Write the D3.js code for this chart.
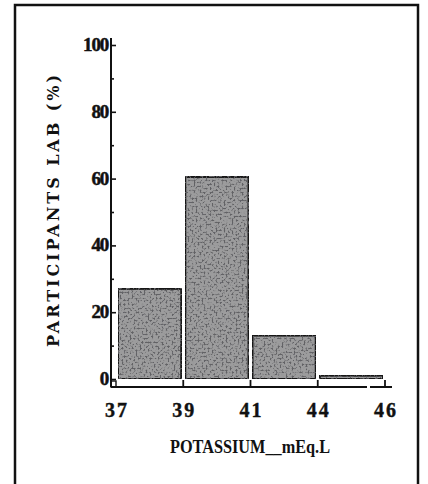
<!DOCTYPE html>
<html>
<head>
<meta charset="utf-8">
<script src="https://cdn.jsdelivr.net/npm/d3@7"></script>
<style>
  html, body { margin: 0; padding: 0; background: #fff; }
  svg { display: block; }
</style>
</head>
<body>
<div id="chart"></div>
<script>
// bin edges as printed (decimal points lost in the scan)
const edgeLabels = ["37", "39", "41", "44", "46"];
// share of participant labs in each potassium bin (%)
const binValues = [27, 60.5, 13, 1];
const yTicks = [0, 20, 40, 60, 80, 100];

const W = 428, H = 484;

const svg = d3.select("#chart").append("svg")
    .attr("width", W)
    .attr("height", H);

// speckled grey fill like the photocopy
const defs = svg.append("defs");
const filt = defs.append("filter").attr("id", "grain")
    .attr("x", 0).attr("y", 0).attr("width", 1).attr("height", 1);
filt.append("feTurbulence")
    .attr("type", "fractalNoise").attr("baseFrequency", 0.5)
    .attr("numOctaves", 2).attr("seed", 7).attr("result", "noise");
filt.append("feColorMatrix").attr("in", "noise").attr("type", "matrix")
    .attr("values", "0 0 0 0 0.12  0 0 0 0 0.12  0 0 0 0 0.13  0 0 0 -5 2.55")
    .attr("result", "spots");
filt.append("feComposite").attr("in", "spots").attr("in2", "SourceGraphic")
    .attr("operator", "in").attr("result", "dark");
filt.append("feMerge").call(m => {
    m.append("feMergeNode").attr("in", "SourceGraphic");
    m.append("feMergeNode").attr("in", "dark");
});

// frame around the figure
svg.append("rect")
    .attr("x", 15).attr("y", 5)
    .attr("width", 403).attr("height", 500)
    .attr("fill", "none")
    .attr("stroke", "#111")
    .attr("stroke-width", 2.5);

const x = d3.scaleLinear().domain([0, edgeLabels.length - 1]).range([116, 385]);
const y = d3.scaleLinear().domain([0, 100]).range([379, 45]);

const axisY0 = 387;
const axisX0 = 111;

// bars
const bars = svg.append("g");
bars.selectAll("rect.bar")
    .data(binValues)
    .join("rect")
    .attr("class", "bar")
    .attr("x", (d, i) => x(i) + 2)
    .attr("y", d => y(d))
    .attr("width", (d, i) => x(i + 1) - x(i) - 4)
    .attr("height", d => y(0) - y(d))
    .attr("fill", "#9c9c9d")
    .attr("filter", "url(#grain)")
    .attr("stroke", "#151515")
    .attr("stroke-width", 2);

// y axis (ticks on the right side of the line)
const yAxis = svg.append("g").attr("transform", `translate(${axisX0},0)`);
yAxis.call(d3.axisRight(y).tickValues(d3.range(0, 101, 10)).tickSize(4).tickFormat(""))
    .call(g => g.select(".domain").remove())
    .call(g => g.selectAll(".tick line").attr("stroke", "#111").attr("stroke-width", 1.6)
        .attr("x2", d => d % 20 === 0 ? 5 : 3));
yAxis.append("line")
    .attr("x1", 0).attr("x2", 0)
    .attr("y1", 38).attr("y2", axisY0)
    .attr("stroke", "#111").attr("stroke-width", 2);
yAxis.selectAll("text.yl")
    .data(yTicks)
    .join("text")
    .attr("class", "yl")
    .attr("x", -3)
    .attr("y", d => y(d) + 6)
    .attr("text-anchor", "end")
    .attr("font-family", "Liberation Serif")
    .attr("font-weight", "bold")
    .attr("font-size", 19)
    .attr("letter-spacing", -1.2)
    .attr("stroke", "#111").attr("stroke-width", 0.5)
    .attr("fill", "#111")
    .text(d => d);

// origin square
svg.append("rect")
    .attr("x", axisX0).attr("y", axisY0 - 6)
    .attr("width", 5).attr("height", 6)
    .attr("fill", "none").attr("stroke", "#111").attr("stroke-width", 1.4);

// x axis
const xAxis = svg.append("g").attr("transform", `translate(0,${axisY0})`);
xAxis.append("line")
    .attr("x1", axisX0).attr("x2", 367)
    .attr("stroke", "#111").attr("stroke-width", 2);
xAxis.append("line")
    .attr("x1", 370).attr("x2", 392)
    .attr("stroke", "#111").attr("stroke-width", 2);
xAxis.selectAll("line.tk")
    .data(edgeLabels.slice(1))
    .join("line")
    .attr("class", "tk")
    .attr("x1", (d, i) => x(i + 1)).attr("x2", (d, i) => x(i + 1))
    .attr("y1", 0).attr("y2", -7)
    .attr("stroke", "#111").attr("stroke-width", 1.8);
xAxis.selectAll("text.xl")
    .data(edgeLabels)
    .join("text")
    .attr("class", "xl")
    .attr("x", (d, i) => x(i) + 1)
    .attr("y", 30)
    .attr("text-anchor", "middle")
    .attr("font-family", "Liberation Serif")
    .attr("font-weight", "bold")
    .attr("font-size", 20)
    .attr("letter-spacing", 2)
    .attr("stroke", "#111").attr("stroke-width", 0.4)
    .attr("fill", "#111")
    .text(d => d);

// axis titles
svg.append("text")
    .attr("x", 250).attr("y", 453)
    .attr("text-anchor", "middle")
    .attr("font-family", "Liberation Serif")
    .attr("font-weight", "bold")
    .attr("font-size", 18)
    .attr("textLength", 160)
    .attr("lengthAdjust", "spacingAndGlyphs")
    .attr("fill", "#111")
    .text("POTASSIUM__mEq.L");

svg.append("text")
    .attr("transform", "translate(59,211) rotate(-90)")
    .attr("text-anchor", "middle")
    .attr("font-family", "DejaVu Serif")
    .attr("font-weight", "bold")
    .attr("font-size", 16)
    .attr("textLength", 272)
    .attr("lengthAdjust", "spacing")
    .attr("fill", "#111")
    .text("PARTICIPANTS LAB (%)");
</script>
</body>
</html>
